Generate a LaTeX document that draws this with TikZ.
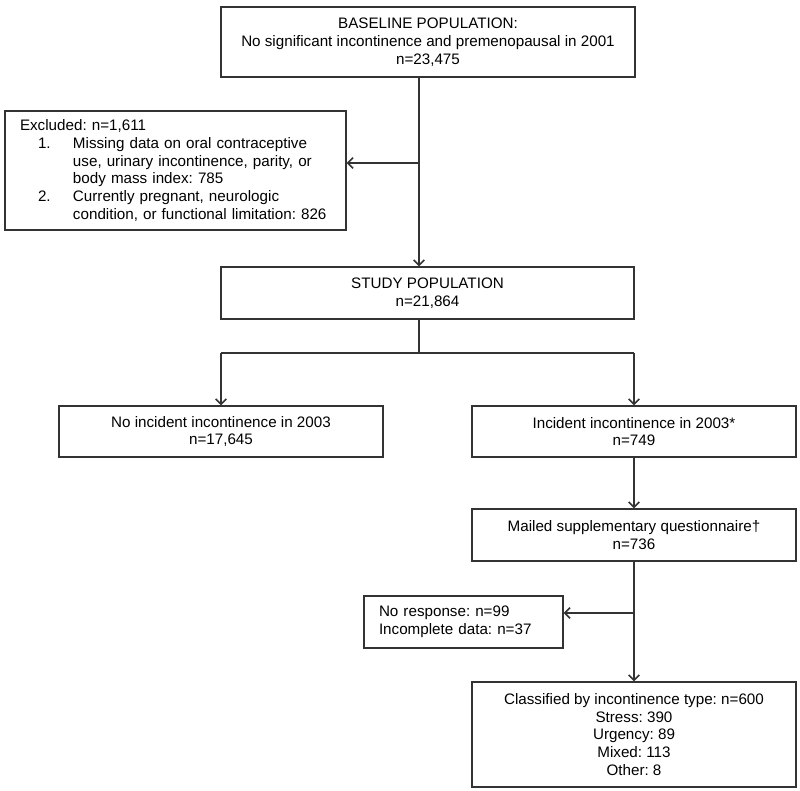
\documentclass[tikz,border=0pt]{standalone}
\usepackage{fontspec}
\setmainfont{Liberation Sans}
\usetikzlibrary{arrows.meta}
\newlength\pxu \setlength\pxu{0.75pt}
\frenchspacing
\begin{document}
\begin{tikzpicture}[x=0.75pt,y=-0.75pt,
  box/.style={draw=black!80, line width=1.1pt, rectangle, inner sep=0pt,
    font=\fontsize{11.4}{13.3}\selectfont\frenchspacing, align=center},
  lbox/.style={box, align=left, inner xsep=15\pxu, inner ysep=0pt},
  conn/.style={line width=1.1pt, draw=black!80},
  arr/.style={conn, -{Straight Barb[length=4pt,width=8pt]}}]
\useasboundingbox (0,0) rectangle (800,791);

\node[box, minimum width=414\pxu, minimum height=70\pxu] (base) at (428,42)
  {BASELINE POPULATION:\\No significant incontinence and premenopausal in 2001\\n=23,475};

\node[lbox, text width=311\pxu, minimum height=119\pxu] (excl) at (175.5,170.5)
  {Excluded: n=1,611\\
   \makebox[53\pxu][l]{\hspace*{18\pxu}1.}Missing data on oral contraceptive\\
   \hspace*{53\pxu}use, urinary incontinence, parity, or\\
   \hspace*{53\pxu}body mass index: 785\\
   \makebox[53\pxu][l]{\hspace*{18\pxu}2.}Currently pregnant, neurologic\\
   \hspace*{53\pxu}condition, or functional limitation: 826};

\node[box, minimum width=413\pxu, minimum height=52\pxu] (study) at (427.5,293)
  {STUDY POPULATION\\n=21,864};

\node[box, minimum width=324\pxu, minimum height=51\pxu] (noinc) at (221,431.5)
  {No incident incontinence in 2003\\n=17,645};

\node[box, minimum width=324\pxu, minimum height=51\pxu] (inc) at (634,431.5)
  {Incident incontinence in 2003*\\n=749};

\node[box, minimum width=324\pxu, minimum height=52\pxu] (mail) at (634,535)
  {Mailed supplementary questionnaire†\\n=736};

\node[lbox, text width=169\pxu, minimum height=52\pxu] (noresp) at (463.5,622)
  {No response: n=99\\Incomplete data: n=37};

\node[box, minimum width=324\pxu, minimum height=105\pxu] (class) at (634,734.5)
  {Classified by incontinence type: n=600\\Stress: 390\\Urgency: 89\\Mixed: 113\\Other: 8};

\coordinate (c1) at (419,163);
\coordinate (b) at (419,353);
\coordinate (c2) at (634,613);

\draw[arr] (base.south -| c1) -- (study.north -| c1);
\draw[arr] (c1) -- (excl.east |- c1);
\draw[conn] (study.south -| b) -- (b);
\draw[conn] (noinc.north |- b) -- (inc.north |- b);
\draw[arr] (noinc.north |- b) -- (noinc.north);
\draw[arr] (inc.north |- b) -- (inc.north);
\draw[arr] (inc.south) -- (mail.north);
\draw[arr] (mail.south) -- (class.north);
\draw[arr] (c2) -- (noresp.east |- c2);
\end{tikzpicture}
\end{document}
